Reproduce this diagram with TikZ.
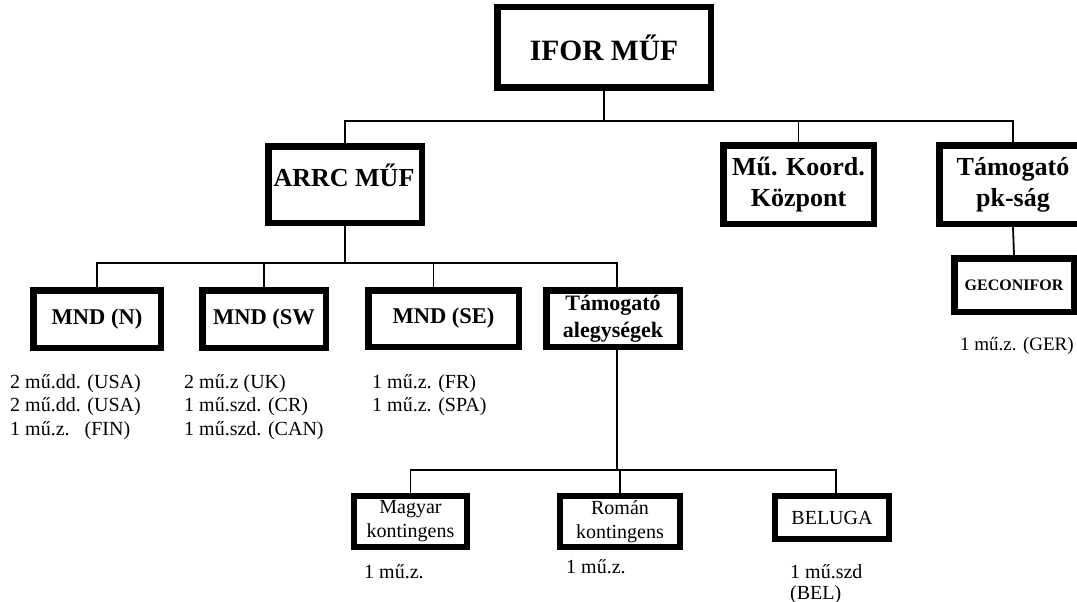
\documentclass[tikz,border=0pt]{standalone}
\usepackage{fontspec}
\setmainfont{Liberation Serif}
\begin{document}
\begin{tikzpicture}[x=1pt,y=-1pt,
  box/.style={draw=black, line width=6.5pt, inner sep=0pt, align=center, font=\bfseries},
  conn/.style={line width=1.8pt},
  lbl/.style={anchor=north west, inner sep=0pt, align=left}]
\useasboundingbox (0,0) rectangle (1077,602);
\fill[white] (0,0) rectangle (1077,602);
% level 0
\node[box, minimum width=213.5pt, minimum height=80.5pt, font=\bfseries\fontsize{29.5}{34}\selectfont] (ifor) at (604,47.5) {IFOR MŰF};
% level 1
\node[box, minimum width=153.5pt, minimum height=76.5pt] (arrc) at (345,184.5) {};
\node[inner sep=0pt, font=\bfseries\fontsize{26}{30}\selectfont] (arrct) at (344,175) {ARRC MŰF};
\node[box, minimum width=150.5pt, minimum height=78.5pt, font=\bfseries\fontsize{26}{31}\selectfont] (koord) at (798.5,184.5) {Mű. Koord.\\Központ};
\node[box, minimum width=147.5pt, minimum height=78.5pt, font=\bfseries\fontsize{26}{31}\selectfont] (pk) at (1013,184.5) {Támogató\\pk-ság};
\node[box, minimum width=119.5pt, minimum height=53.5pt, font=\bfseries\fontsize{16}{19}\selectfont] (gec) at (1014,285) {GECONIFOR};
% level 2
\node[box, minimum width=127.5pt, minimum height=57.5pt, font=\bfseries\fontsize{22.5}{26}\selectfont] (mndn) at (97,319) {MND (N)};
\node[box, minimum width=123.5pt, minimum height=57.5pt, font=\bfseries\fontsize{22.5}{26}\selectfont] (mndsw) at (264,319) {MND (SW};
\node[box, minimum width=150.5pt, minimum height=56.5pt, font=\bfseries\fontsize{22.5}{26}\selectfont] (mndse) at (443.5,318.5) {MND (SE)};
\node[box, minimum width=133.5pt, minimum height=56.5pt, font=\bfseries\fontsize{22}{27}\selectfont] (tama) at (613,318.5) {Támogató\\alegységek};
% level 3
\node[box, line width=6pt, minimum width=113pt, minimum height=51pt, font=\fontsize{20}{24}\selectfont] (magy) at (410.5,521.5) {Magyar\\kontingens};
\node[box, line width=6pt, minimum width=120pt, minimum height=51pt, font=\fontsize{20}{24}\selectfont] (rom) at (620,521.5) {Román\\kontingens};
\node[box, line width=6pt, minimum width=114pt, minimum height=43pt, font=\fontsize{20}{23}\selectfont] (bel) at (832,517.5) {BELUGA};
% labels
\node[lbl, font=\fontsize{20}{23.5}\selectfont] (ln) at (10,374) {2 mű.dd. (USA)\\2 mű.dd. (USA)\\1 mű.z.\ \ \ (FIN)};
\node[lbl, font=\fontsize{20}{23.5}\selectfont] (lsw) at (184,374) {2 mű.z (UK)\\1 mű.szd. (CR)\\1 mű.szd. (CAN)};
\node[lbl, font=\fontsize{20}{23.5}\selectfont] (lse) at (372,374) {1 mű.z. (FR)\\1 mű.z. (SPA)};
\node[lbl, font=\fontsize{19}{23.5}\selectfont] (lger) at (960,337) {1 mű.z. (GER)};
\node[lbl, font=\fontsize{20}{23.5}\selectfont] (lmagy) at (364,564) {1 mű.z.};
\node[lbl, font=\fontsize{20}{23.5}\selectfont] (lrom) at (566,559) {1 mű.z.};
\node[lbl, font=\fontsize{20}{21}\selectfont] (lbel) at (790,564) {1 mű.szd\\(BEL)};
% connectors
\coordinate (bus1) at (604,121);
\coordinate (bus2) at (345,263);
\coordinate (bus3) at (617,470);
\draw[conn] (ifor.south) -- (bus1);
\draw[conn] (arrc.north) |- (bus1) -| (pk.north);
\draw[conn] (koord.north) -- (koord.north |- bus1);
\draw[conn] (pk.south) -- (gec.north);
\draw[conn] (arrc.south) -- (bus2);
\draw[conn] (mndn.north) |- (bus2) -| ([xshift=4pt]tama.north);
\draw[conn] (mndsw.north) -- (mndsw.north |- bus2);
\draw[conn] ([xshift=-10pt]mndse.north) -- ([xshift=-10pt]mndse.north |- bus2);
\draw[conn] ([xshift=4pt]tama.south) -- (bus3);
\draw[conn] (magy.north) |- (bus3) -| ([xshift=4pt]bel.north);
\draw[conn] (rom.north) -- (rom.north |- bus3);
\end{tikzpicture}
\end{document}
